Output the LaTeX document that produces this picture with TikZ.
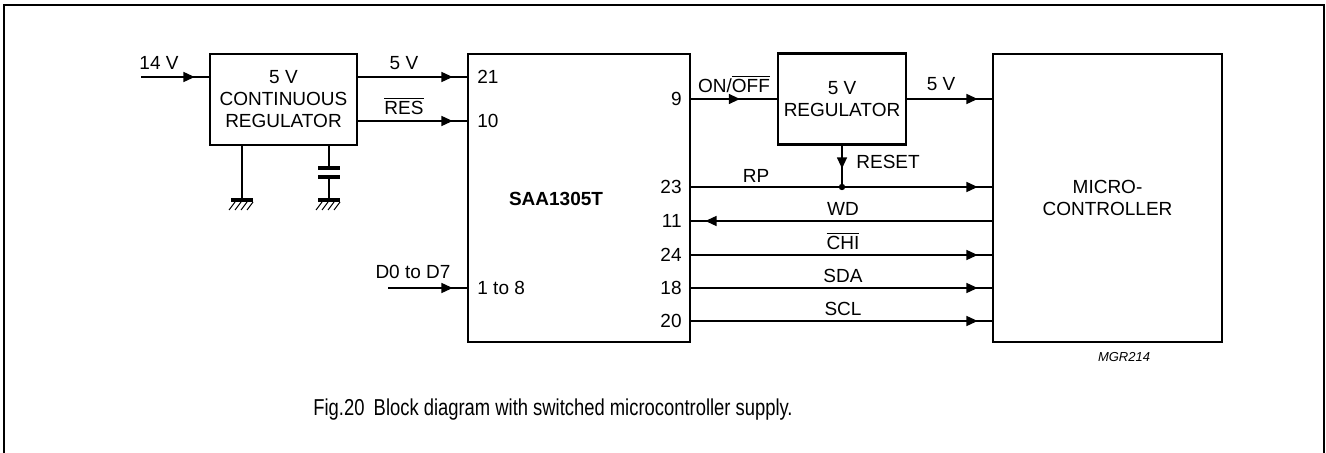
\documentclass[tikz,border=0pt]{standalone}
\usepackage{fontspec}
\setmainfont{Liberation Sans}
\usetikzlibrary{arrows.meta,decorations.markings,calc}
\newcommand{\ovl}[1]{$\overline{\mbox{#1}}$}
\tikzset{
  blk/.style={draw, line width=1.4pt, inner sep=0pt, align=center,
    font=\fontsize{9.5}{11}\selectfont},
  wire/.style={line width=0.8pt},
  sig/.style={wire, postaction={decorate},
    decoration={markings, mark=at position #1 with {\arrow{Triangle[length=5.6pt,width=5pt]}}}},
  sig/.default=-7pt,
  lbl/.style={inner sep=0pt, font=\fontsize{9.5}{11}\selectfont},
  gnd/.pic={
    \draw[line width=1.6pt] (-11,0) -- (11,0);
    \foreach \i in {-7,-1,5,11} \draw[line width=0.5pt] (\i,2) -- (\i-6,10);
  }
}
\begin{document}
\begin{tikzpicture}[x=0.5pt, y=-0.5pt]
\useasboundingbox (0,0) rectangle (1326,453);
% Frame
\draw[line width=1pt] (4,453) -- (4,5) -- (1324,5) -- (1324,453);
% Blocks
\node[blk, minimum width=73.5pt, minimum height=45.5pt] (creg) at (283.5,99.5) {5 V\\CONTINUOUS\\REGULATOR};
\node[blk, minimum width=111pt, minimum height=144pt] (ic) at (579,198) {};
\node[blk, minimum width=64pt, minimum height=45.5pt] (vreg) at (842,99) {5 V\\REGULATOR};
\node[blk, minimum width=114.5pt, minimum height=144pt] (mcu) at (1107.5,198) {MICRO-\\CONTROLLER};
\node[lbl, font=\fontsize{9.5}{11}\selectfont\bfseries] (icname) at (556,199) {SAA1305T};
% Pins
\node[lbl, anchor=west] (n21) at (477,77) {21};
\node[lbl, anchor=west] (n10) at (477,121) {10};
\node[lbl, anchor=west] (n18to) at (477,288) {1 to 8};
\node[lbl, anchor=east] (n9) at (682,99) {9};
\node[lbl, anchor=east] (n23) at (682,187) {23};
\node[lbl, anchor=east] (n11) at (682,221) {11};
\node[lbl, anchor=east] (n24) at (682,255) {24};
\node[lbl, anchor=east] (n18) at (682,288) {18};
\node[lbl, anchor=east] (n20) at (682,321) {20};
% Inputs
\coordinate (in14) at (141,77);
\coordinate (indata) at (388,288);
\draw[sig] (in14) -- (creg.west |- in14);
\draw[sig] (indata) -- (ic.west |- indata);
\draw[sig] (creg.east |- n21) -- (ic.west |- n21);
\draw[sig] (creg.east |- n10) -- (ic.west |- n10);
% Ground and capacitor
\coordinate (g1) at (242,200);
\coordinate (g2) at (329,200);
\coordinate (c1) at (329,168);
\coordinate (c2) at (329,177);
\draw[wire] (creg.south -| g1) -- (g1);
\draw[wire] (creg.south -| c1) -- (c1);
\draw[wire] (c2) -- (g2);
\draw[line width=1.6pt] ($(c1)+(-11,0)$) -- ($(c1)+(11,0)$);
\draw[line width=1.6pt] ($(c2)+(-11,0)$) -- ($(c2)+(11,0)$);
\pic at (g1) {gnd};
\pic at (g2) {gnd};
% Outputs
\draw[sig=0.57] (ic.east |- n9) -- (vreg.west |- n9);
\draw[sig] (vreg.east |- n9) -- (mcu.west |- n9);
\coordinate (dot) at (vreg.south |- n23);
\draw[sig] (ic.east |- n23) -- (mcu.west |- n23);
\draw[sig=0.55] (vreg.south) -- (dot);
\fill (dot) circle (1.6pt);
\draw[sig] (mcu.west |- n11) -- (ic.east |- n11);
\draw[sig] (ic.east |- n24) -- (mcu.west |- n24);
\draw[sig] (ic.east |- n18) -- (mcu.west |- n18);
\draw[sig] (ic.east |- n20) -- (mcu.west |- n20);
% Labels
\node[lbl] (l14) at (159,63) {14 V};
\node[lbl] (l5a) at (404,63) {5 V};
\node[lbl] (lres) at (404,106) {\ovl{RES}};
\node[lbl] (ldat) at (413,272) {D0 to D7};
\node[lbl] (lon) at (734,84) {ON/\ovl{OFF}};
\node[lbl] (l5b) at (941,84) {5 V};
\node[lbl, anchor=west] (lrst) at (856,162) {RESET};
\node[lbl] (lrp) at (756,176) {RP};
\node[lbl] (lwd) at (843,209) {WD};
\node[lbl] (lchi) at (843,241) {\ovl{CHI}};
\node[lbl] (lsda) at (843,276) {SDA};
\node[lbl] (lscl) at (843,309) {SCL};
\node[lbl, font=\fontsize{6.5}{8}\selectfont\itshape] (code) at (1124,357) {MGR214};
% Caption
\node[lbl, anchor=west, font=\fontsize{11.5}{13}\selectfont] (cap) at (313,410) {\scalebox{0.8}[1]{Fig.20\hspace{0.5em}Block diagram with switched microcontroller supply.}};
\end{tikzpicture}
\end{document}
